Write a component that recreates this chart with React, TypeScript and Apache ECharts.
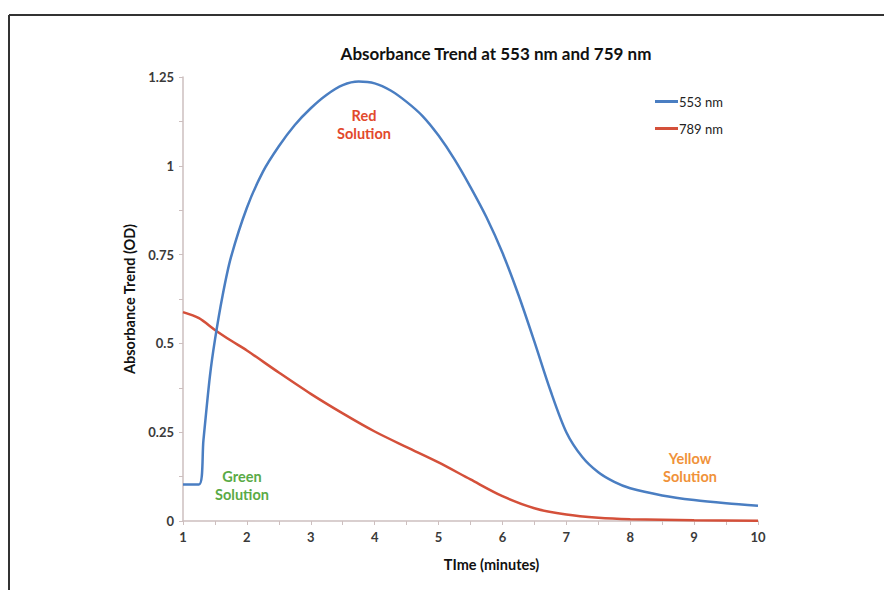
import React, { useEffect, useRef } from "react";
import * as echarts from "echarts";

const titleText = "Absorbance Trend at 553 nm and 759 nm";
const xAxisName = "TIme (minutes)";
const yAxisName = "Absorbance Trend (OD)";
const seriesNames = ["553 nm", "789 nm"];

const time553 = [1, 1.25, 1.32, 1.42, 1.5, 1.62, 1.75, 2, 2.25, 2.5, 2.75, 3, 3.25, 3.5, 3.75, 4, 4.25, 4.5, 4.75, 5, 5.25, 5.5, 5.75, 6, 6.25, 6.5, 6.75, 7, 7.25, 7.5, 7.75, 8, 8.5, 9, 9.5, 10];
const abs553 = [0.103, 0.103, 0.228, 0.406, 0.51, 0.635, 0.742, 0.882, 0.983, 1.055, 1.115, 1.162, 1.2, 1.227, 1.237, 1.232, 1.212, 1.18, 1.14, 1.085, 1.018, 0.94, 0.855, 0.755, 0.637, 0.505, 0.368, 0.25, 0.18, 0.137, 0.11, 0.092, 0.072, 0.059, 0.05, 0.043];

const time789 = [1, 1.25, 1.5, 1.75, 2, 2.5, 3, 3.5, 4, 4.5, 5, 5.5, 6, 6.5, 7, 7.5, 8, 9, 10];
const abs789 = [0.588, 0.571, 0.538, 0.508, 0.48, 0.418, 0.358, 0.303, 0.252, 0.208, 0.165, 0.117, 0.07, 0.036, 0.018, 0.009, 0.005, 0.002, 0.001];

const annotations = [
  { text: "Red\nSolution", color: "#e2492c" },
  { text: "Green\nSolution", color: "#5aaa46" },
  { text: "Yellow\nSolution", color: "#f0923a" },
];

const FONT = "Lato";

export default function App() {
  const ref = useRef<HTMLDivElement>(null);
  useEffect(() => {
    if (!ref.current) return;
    const chart = echarts.init(ref.current, null, { renderer: "svg" });
    const axisColor = "#cdbfbf";
    const annPos = [
      { x: 364, y: 106 },
      { x: 242, y: 467 },
      { x: 690, y: 449 },
    ];
    chart.setOption({
      animation: false,
      backgroundColor: "#ffffff",
      title: {
        text: titleText,
        left: 491,
        top: 40,
        textAlign: "center",
        textStyle: { fontFamily: FONT, fontSize: 17, fontWeight: "bold", color: "#111" },
      },
      legend: {
        orient: "vertical",
        left: 650,
        top: 90,
        itemGap: 14,
        itemWidth: 23,
        itemHeight: 3,
        icon: "rect",
        textStyle: { fontFamily: FONT, fontSize: 13, color: "#222", padding: [0, 0, 0, -4] },
        data: seriesNames,
      },
      grid: { left: 183, right: 126, top: 77, bottom: 69, containLabel: false },
      xAxis: {
        type: "value",
        min: 1,
        max: 10,
        interval: 1,
        name: xAxisName,
        nameLocation: "middle",
        nameGap: 36,
        nameTextStyle: { fontFamily: FONT, fontSize: 14.5, fontWeight: "bold", color: "#111", padding: [0, 0, 0, 42] },
        axisLine: { show: true, lineStyle: { color: axisColor, width: 1.5 } },
        axisTick: { show: true, length: 4, inside: false, lineStyle: { color: axisColor } },
        minorTick: { show: true, splitNumber: 2, length: 4, lineStyle: { color: axisColor } },
        splitLine: { show: false },
        axisLabel: { fontFamily: FONT, fontSize: 13, fontWeight: "bold", color: "#3a3a3a", margin: 9 },
      },
      yAxis: {
        type: "value",
        min: 0,
        max: 1.25,
        interval: 0.25,
        name: yAxisName,
        nameLocation: "middle",
        nameGap: 33,
        nameRotate: 90,
        nameTextStyle: { fontFamily: FONT, fontSize: 14.5, fontWeight: "bold", color: "#111" },
        axisLine: { show: true, lineStyle: { color: axisColor, width: 1.5 } },
        axisTick: { show: true, length: 4, inside: false, lineStyle: { color: axisColor } },
        minorTick: { show: true, splitNumber: 2, length: 4, lineStyle: { color: axisColor } },
        splitLine: { show: false },
        axisLabel: { fontFamily: FONT, fontSize: 13, fontWeight: "bold", color: "#3a3a3a", margin: 9 },
      },
      series: [
        {
          name: seriesNames[0],
          type: "line",
          data: time553.map((t, i) => [t, abs553[i]]),
          smooth: 0.3,
          showSymbol: false,
          lineStyle: { color: "#4a7ec2", width: 2.5 },
          itemStyle: { color: "#4a7ec2" },
          z: 3,
        },
        {
          name: seriesNames[1],
          type: "line",
          data: time789.map((t, i) => [t, abs789[i]]),
          smooth: 0.3,
          showSymbol: false,
          lineStyle: { color: "#d4503a", width: 2.5 },
          itemStyle: { color: "#d4503a" },
          z: 2,
        },
      ],
      graphic: [
        { type: "line", shape: { x1: 9, y1: 15, x2: 884, y2: 15 }, style: { stroke: "#333", lineWidth: 2 } },
        { type: "line", shape: { x1: 9, y1: 15, x2: 9, y2: 590 }, style: { stroke: "#333", lineWidth: 2 } },
        ...annotations.map((a, i) => ({
          type: "text",
          x: annPos[i].x,
          y: annPos[i].y,
          style: {
            text: a.text,
            fill: a.color,
            font: `bold 14.5px ${FONT}`,
            align: "center",
            lineHeight: 18,
          },
        })),
      ],
    });
    return () => chart.dispose();
  }, []);
  return (
    <div
      ref={ref}
      style={{ position: "fixed", left: 0, top: 0, width: 884, height: 590 }}
    />
  );
}
